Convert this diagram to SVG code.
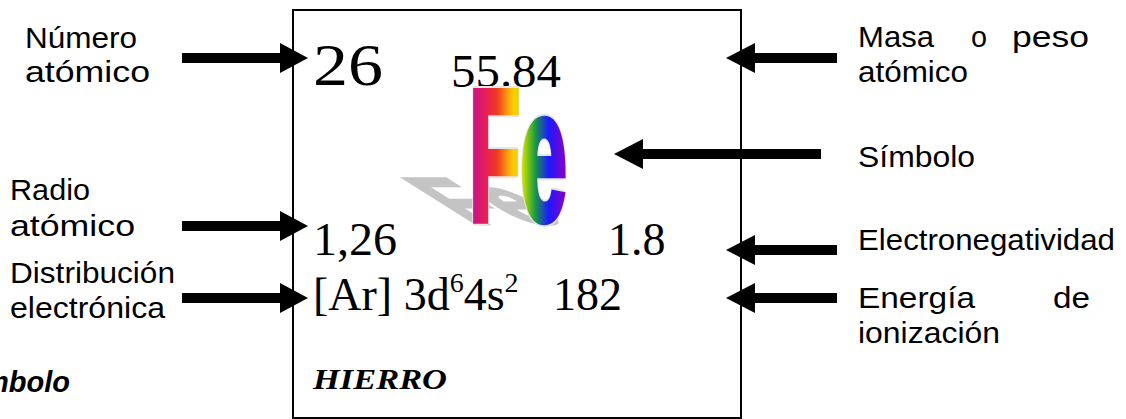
<svg xmlns="http://www.w3.org/2000/svg" width="1126" height="419" viewBox="0 0 1126 419">
<style>
.lbl{font-family:"Liberation Sans",Arial,sans-serif;font-size:29px;fill:#000}
.tm{font-family:"Liberation Serif","Times New Roman",serif;fill:#000}
.fe{font-family:"Liberation Sans",Arial,sans-serif;font-weight:bold;font-size:100px}
.arr{fill:#000}
</style>
<defs>
<linearGradient id="rb" gradientUnits="userSpaceOnUse" x1="2" y1="0" x2="115" y2="0">
<stop offset="0" stop-color="#c0148f"/>
<stop offset="0.15" stop-color="#e61c5c"/>
<stop offset="0.28" stop-color="#f03a22"/>
<stop offset="0.40" stop-color="#fca40f"/>
<stop offset="0.45" stop-color="#ffcc00"/>
<stop offset="0.55" stop-color="#c8e000"/>
<stop offset="0.68" stop-color="#1a9a40"/>
<stop offset="0.82" stop-color="#1a1aff"/>
<stop offset="1" stop-color="#8a00c8"/>
</linearGradient>
</defs>
<rect width="1126" height="419" fill="#fff"/>
<g id="element-box">
<rect x="293" y="10" width="448" height="408" fill="none" stroke="#000" stroke-width="2"/>
<text class="tm" x="313" y="85" font-size="60" textLength="70" lengthAdjust="spacingAndGlyphs">26</text>
<text class="tm" x="451" y="87" font-size="46" textLength="110" lengthAdjust="spacingAndGlyphs">55.84</text>
<g id="symbol">
<text class="fe" x="0" y="0" transform="matrix(0.85,0,1.05,0.66,470,224)" fill="#c4c4c4" stroke="#c4c4c4" stroke-width="4" vector-effect="non-scaling-stroke">Fe</text>
<text class="fe" x="0" y="0" transform="translate(469,220) scale(0.84,1.88)" fill="#e6e6e6" stroke="#e6e6e6" stroke-width="8" stroke-linejoin="round" vector-effect="non-scaling-stroke">Fe</text>
<text class="fe" x="0" y="0" transform="translate(469,220) scale(0.84,1.88)" fill="url(#rb)" stroke="url(#rb)" stroke-width="5" vector-effect="non-scaling-stroke">Fe</text>
</g>
<text class="tm" x="313" y="255" font-size="46" textLength="84" lengthAdjust="spacingAndGlyphs">1,26</text>
<text class="tm" x="608" y="255" font-size="46">1.8</text>
<text class="tm" x="313" y="310" font-size="46">[Ar] 3d<tspan font-size="28" dy="-18">6</tspan><tspan dy="18">4s</tspan><tspan font-size="28" dy="-18">2</tspan></text>
<text class="tm" x="553" y="310" font-size="46">182</text>
<text class="tm" x="313" y="389" font-size="30" font-weight="bold" font-style="italic" textLength="134" lengthAdjust="spacingAndGlyphs">HIERRO</text>
</g>
<g id="label-numero">
<text class="lbl" x="25" y="48" textLength="112" lengthAdjust="spacingAndGlyphs">Número</text>
<text class="lbl" x="25" y="82" textLength="125" lengthAdjust="spacingAndGlyphs">atómico</text>
</g>
<g id="label-radio">
<text class="lbl" x="10" y="200" textLength="80" lengthAdjust="spacingAndGlyphs">Radio</text>
<text class="lbl" x="10" y="236" textLength="125" lengthAdjust="spacingAndGlyphs">atómico</text>
</g>
<g id="label-distribucion">
<text class="lbl" x="10" y="283" textLength="165" lengthAdjust="spacingAndGlyphs">Distribución</text>
<text class="lbl" x="10" y="318" textLength="155" lengthAdjust="spacingAndGlyphs">electrónica</text>
</g>
<g id="label-simbolo-bottom">
<text x="-17" y="392" font-family="'Liberation Sans',Arial,sans-serif" font-size="29" font-weight="bold" font-style="italic">mbolo</text>
</g>
<g id="label-masa">
<text class="lbl" x="858" y="47" textLength="76" lengthAdjust="spacingAndGlyphs">Masa</text>
<text class="lbl" x="971" y="47" textLength="16" lengthAdjust="spacingAndGlyphs">o</text>
<text class="lbl" x="1012" y="47" textLength="77" lengthAdjust="spacingAndGlyphs">peso</text>
<text class="lbl" x="858" y="82" textLength="110" lengthAdjust="spacingAndGlyphs">atómico</text>
</g>
<g id="label-simbolo">
<text class="lbl" x="858" y="167" textLength="117" lengthAdjust="spacingAndGlyphs">Símbolo</text>
</g>
<g id="label-electronegatividad">
<text class="lbl" x="858" y="250" textLength="257" lengthAdjust="spacingAndGlyphs">Electronegatividad</text>
</g>
<g id="label-energia">
<text class="lbl" x="858" y="308" textLength="117" lengthAdjust="spacingAndGlyphs">Energía</text>
<text class="lbl" x="1053" y="308" textLength="37" lengthAdjust="spacingAndGlyphs">de</text>
<text class="lbl" x="858" y="343" textLength="142" lengthAdjust="spacingAndGlyphs">ionización</text>
</g>
<g id="connectors">
<path class="arr" d="M182,53 H280 V43 L308,58 L280,73 V63 H182 Z"/>
<path class="arr" d="M182,221 H280 V211 L308,226 L280,241 V231 H182 Z"/>
<path class="arr" d="M182,293 H280 V283 L308,298 L280,313 V303 H182 Z"/>
<path class="arr" d="M837,53 H755 V43 L726,58 L755,73 V63 H837 Z"/>
<path class="arr" d="M821,149 H643 V139 L614,154 L643,169 V159 H821 Z"/>
<path class="arr" d="M837,245 H755 V235 L726,250 L755,265 V255 H837 Z"/>
<path class="arr" d="M837,293 H755 V283 L726,298 L755,313 V303 H837 Z"/>
</g>
</svg>
